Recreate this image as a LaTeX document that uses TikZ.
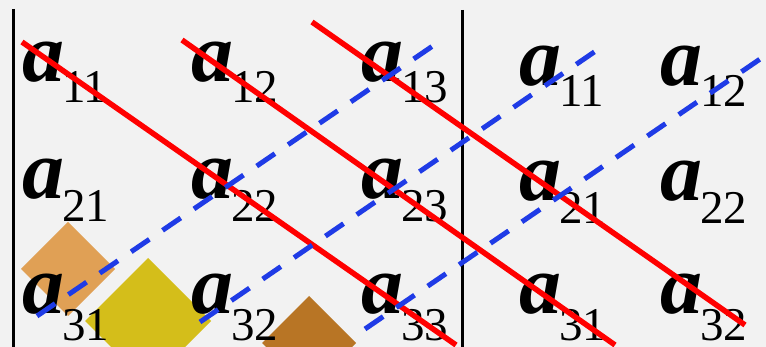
\documentclass[tikz,border=0pt]{standalone}
\usepackage{fontspec}
\setmainfont{Liberation Serif}
\usetikzlibrary{arrows.meta}

\definecolor{bgGray}{HTML}{F2F2F2}
\definecolor{tileOrange}{HTML}{E0A055}
\definecolor{tileYellow}{HTML}{D4BE1A}
\definecolor{tileBrown}{HTML}{B87525}
\definecolor{diagBlue}{HTML}{1F3BE6}

\newcommand{\subfont}{\fontsize{47}{47}\selectfont}

\tikzset{
    elem/.style={anchor=base west, inner sep=0pt, font=\fontsize{84}{84}\selectfont},
    mainDiag/.style={red, line width=5.5pt},
    antiDiag/.style={diagBlue, line width=5pt, dash pattern=on 22pt off 16pt},
    bar/.style={black, line width=3pt}
}

\begin{document}
\begin{tikzpicture}[x=1pt, y=-1pt]

    % background and frame
    \fill [bgGray] (0,0) rectangle (766,347);
    \useasboundingbox (0,0) rectangle (766,347);
    \clip (0,0) rectangle (766,347);

    % --- tiles ---
    \fill [tileOrange] (68,222) -- (115,269) -- (68,316) -- (21,269) -- cycle;
    \fill [tileYellow] (148,258) -- (211,321) -- (148,384) -- (85,321) -- cycle;
    \fill [tileBrown] (309,296) -- (356,343) -- (309,390) -- (262,343) -- cycle;

    % --- determinant bars ---
    \draw [bar] (13,9) -- (13,347);
    \draw [bar] (462,10) -- (462,347);

    % --- entries ---
    \foreach \n/\x/\y/\s/\d in {
        l11/22/82/11/21, l12/191/82/12/21, l13/361/82/13/21,
        l21/22/199/21/23, l22/191/199/22/23, l23/361/199/23/23,
        l31/22/314/31/27, l32/191/314/32/27, l33/361/314/33/27,
        r11/519/86/11/21, r12/660/86/12/21,
        r21/519/201/21/23, r22/660/201/22/23,
        r31/519/314/31/27, r32/660/314/32/27} {
        \node [elem] (\n) at (\x,\y) {\textbf{\textit{a}}\kern-2pt\raisebox{-\d pt}{\subfont\s}};
    }

    % --- main diagonals (red) ---
    \draw [mainDiag] (22,42) -- (456,345);
    \draw [mainDiag] (182,40) -- (615,345);
    \draw [mainDiag] (312,22) -- (745,325);

    % --- anti diagonals (blue, dashed) ---
    \draw [antiDiag] (37,316) -- (440,41);
    \draw [antiDiag] (200,322) -- (603,46);
    \draw [antiDiag] (365,329) -- (766,55);

\end{tikzpicture}
\end{document}
